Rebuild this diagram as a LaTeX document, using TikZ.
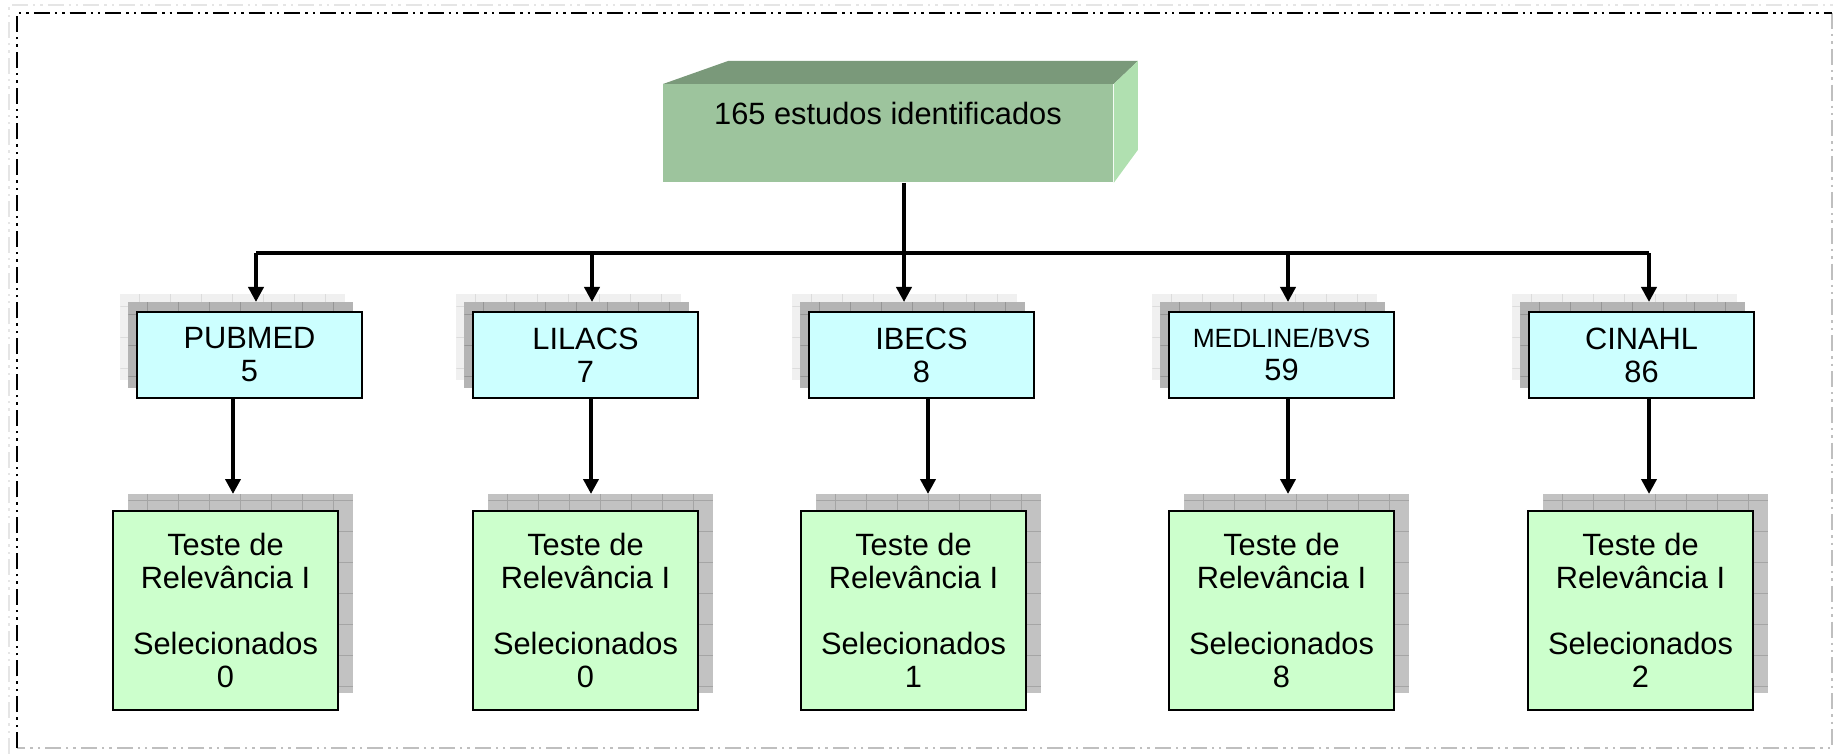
\documentclass[tikz,border=0pt]{standalone}
\usepackage{fontspec}
\setmainfont{Liberation Sans}
\usetikzlibrary{arrows.meta,calc}

\definecolor{topfront}{RGB}{157,196,157}
\definecolor{topdark}{RGB}{122,153,122}
\definecolor{topside}{RGB}{176,224,176}
\definecolor{dbcyan}{RGB}{204,255,255}
\definecolor{selgreen}{RGB}{204,255,204}
\definecolor{shlight}{RGB}{240,240,240}
\definecolor{shlightline}{RGB}{220,220,220}
\definecolor{shgray}{RGB}{180,180,180}
\definecolor{shgrayline}{RGB}{150,150,150}
\definecolor{shbot}{RGB}{194,194,194}
\definecolor{shbotline}{RGB}{165,165,165}

\begin{document}
\begin{tikzpicture}[x=0.5pt,y=-0.5pt]

\def\busy{253}
\def\dby{311}
\def\sely{510}

\tikzset{txt/.style = {font=\fontsize{15.4}{16.5}\selectfont, align=center, inner sep=0pt}}
\tikzset{dbbox/.style = {txt, draw, line width=1pt, fill=dbcyan, minimum width=112.5pt, minimum height=43pt, anchor=north west}}
\tikzset{dblight/.style = {fill=shlight, minimum width=112.5pt, minimum height=43pt, inner sep=0pt, anchor=north west,
  path picture={\draw[shlightline, line width=0.5pt, step=15.5pt] (path picture bounding box.south west) grid (path picture bounding box.north east);}}}
\tikzset{dbgray/.style = {dblight, fill=shgray,
  path picture={\draw[shgrayline, line width=0.5pt, step=15.5pt] (path picture bounding box.south west) grid (path picture bounding box.north east);}}}
\tikzset{selbox/.style = {txt, draw, line width=1pt, fill=selgreen, minimum width=112.5pt, minimum height=99.5pt, anchor=north west}}
\tikzset{selshadow/.style = {fill=shbot, minimum width=112.5pt, minimum height=99.5pt, inner sep=0pt, anchor=north west,
  path picture={\draw[shbotline, line width=0.5pt, step=15.5pt] (path picture bounding box.south west) grid (path picture bounding box.north east);}}}
\tikzset{link/.style = {line width=2pt}}
\tikzset{arr/.style = {link, -{Triangle[width=7.5pt,length=7.5pt]}}}
\tikzset{framedash/.style = {line width=1pt, dash pattern=on 8pt off 2.5pt on 1.2pt off 2.5pt on 1.2pt off 2.5pt}}

\useasboundingbox (0,0) rectangle (1836,754);

\draw[framedash, black!10] (9,754) -- (9,5) -- (1836,5);
\draw[framedash, black!25] (1832,13) -- (1832,748) -- (17,748);
\draw[framedash] (17,748) -- (17,13) -- (1832,13);

\node[fill=topfront, minimum width=225pt, minimum height=49pt, inner sep=0pt, anchor=north west] (top) at (663,84) {};
\fill[topdark] (top.north west) -- +(65,-23) -- ($(top.north east)+(24,-23)$) -- (top.north east) -- cycle;
\fill[topside] (top.north east) -- +(24,-23) -- +(24,66) -- (top.south east) -- cycle;
\node[txt] (toptxt) at (888,113) {165 estudos identificados};

\node[dblight] (db1l) at (120,294) {};
\node[dbgray] (db1g) at (128,302) {};
\node[dbbox] (db1) at (136,\dby) {PUBMED\\5};
\node[dblight] (db2l) at (456,294) {};
\node[dbgray] (db2g) at (464,302) {};
\node[dbbox] (db2) at (472,\dby) {LILACS\\7};
\node[dblight] (db3l) at (792,294) {};
\node[dbgray] (db3g) at (800,302) {};
\node[dbbox] (db3) at (808,\dby) {IBECS\\8};
\node[dblight] (db4l) at (1152,294) {};
\node[dbgray] (db4g) at (1160,302) {};
\node[dbbox] (db4) at (1168,\dby) {{\fontsize{13.2}{16.5}\selectfont MEDLINE/BVS}\\59};
\node[dblight] (db5l) at (1512,294) {};
\node[dbgray] (db5g) at (1520,302) {};
\node[dbbox] (db5) at (1528,\dby) {CINAHL\\86};

\node[selshadow] (sel1s) at (128,494) {};
\node[selbox] (sel1) at (112,\sely) {Teste de\\Relevância I\\[16.5pt]Selecionados\\0};
\node[selshadow] (sel2s) at (488,494) {};
\node[selbox] (sel2) at (472,\sely) {Teste de\\Relevância I\\[16.5pt]Selecionados\\0};
\node[selshadow] (sel3s) at (816,494) {};
\node[selbox] (sel3) at (800,\sely) {Teste de\\Relevância I\\[16.5pt]Selecionados\\1};
\node[selshadow] (sel4s) at (1184,494) {};
\node[selbox] (sel4) at (1168,\sely) {Teste de\\Relevância I\\[16.5pt]Selecionados\\8};
\node[selshadow] (sel5s) at (1543,494) {};
\node[selbox] (sel5) at (1527,\sely) {Teste de\\Relevância I\\[16.5pt]Selecionados\\2};

\coordinate (b1) at (256,\busy);
\coordinate (b2) at (592,\busy);
\coordinate (b3) at (904,\busy);
\coordinate (b4) at (1288,\busy);
\coordinate (b5) at (1649,\busy);
\coordinate (d1) at (233,0);
\coordinate (d2) at (591,0);
\coordinate (d3) at (928,0);
\coordinate (d4) at (1288,0);
\coordinate (d5) at (1649,0);

\draw[link] (top.south -| b3) -- (b3);
\draw[link] (b1) -- (b5);
\draw[arr] (b1) -- (b1 |- db1g.north);
\draw[arr] (b2) -- (b2 |- db2g.north);
\draw[arr] (b3) -- (b3 |- db3g.north);
\draw[arr] (b4) -- (b4 |- db4g.north);
\draw[arr] (b5) -- (b5 |- db5g.north);

\draw[arr] (db1.south -| d1) -- (sel1s.north -| d1);
\draw[arr] (db2.south -| d2) -- (sel2s.north -| d2);
\draw[arr] (db3.south -| d3) -- (sel3s.north -| d3);
\draw[arr] (db4.south -| d4) -- (sel4s.north -| d4);
\draw[arr] (db5.south -| d5) -- (sel5s.north -| d5);

\end{tikzpicture}
\end{document}
